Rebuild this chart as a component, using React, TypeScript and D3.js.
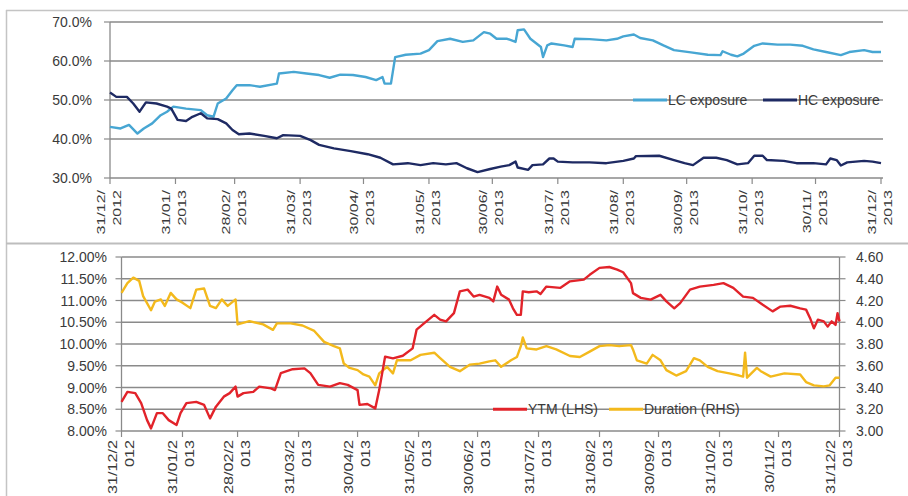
import React from "react";
import * as d3 from "d3";

// ---------- data ----------
const START = "2012-12-31";
const tickDates = [
  "2012-12-31", "2013-01-31", "2013-02-28", "2013-03-31", "2013-04-30", "2013-05-31",
  "2013-06-30", "2013-07-31", "2013-08-31", "2013-09-30", "2013-10-31", "2013-11-30", "2013-12-31",
];
const exposureTicks = [30, 40, 50, 60, 70];
const ytmTicks = [8, 8.5, 9, 9.5, 10, 10.5, 11, 11.5, 12];
const durationTicks = [3.0, 3.2, 3.4, 3.6, 3.8, 4.0, 4.2, 4.4, 4.6];

// days since 31/12/2012
const lcDays = [0, 5, 9, 13, 16, 20, 24, 27, 30, 36, 43, 46, 49, 51, 55, 58, 60, 66, 71, 79, 80, 87, 93, 99, 104, 109, 115, 121, 126, 129, 130, 133, 135, 140, 147, 151, 155, 161, 167, 172, 177, 180, 183, 188, 192, 193, 196, 199, 204, 205, 207, 209, 215, 219, 220, 227, 235, 240, 243, 248, 251, 257, 262, 267, 275, 283, 289, 290, 294, 297, 300, 305, 309, 316, 322, 328, 333, 339, 346, 350, 357, 361, 365];
const lcValues = [43.1, 42.7, 43.6, 41.4, 42.7, 44, 46.1, 47, 48.3, 47.8, 47.4, 46.1, 45.7, 49.1, 50.4, 52.5, 53.8, 53.8, 53.4, 54.2, 56.8, 57.2, 56.8, 56.4, 55.7, 56.5, 56.4, 55.9, 55.1, 55.9, 54.2, 54.2, 61, 61.6, 61.9, 62.8, 65.1, 65.7, 64.9, 65.3, 67.4, 67, 65.7, 65.7, 64.9, 67.9, 68.1, 65.7, 63.6, 61, 64, 64.5, 64, 63.6, 65.7, 65.6, 65.3, 65.7, 66.3, 66.8, 65.9, 65.3, 64, 62.8, 62.2, 61.6, 61.5, 62.5, 61.6, 61.2, 61.9, 63.9, 64.5, 64.2, 64.2, 63.9, 63, 62.3, 61.5, 62.3, 62.8, 62.3, 62.3];

const hcDays = [0, 3, 8, 11, 14, 17, 22, 27, 29, 32, 36, 39, 43, 46, 51, 55, 58, 61, 66, 73, 79, 82, 90, 95, 99, 106, 114, 122, 128, 134, 141, 147, 153, 159, 164, 169, 174, 180, 185, 189, 192, 193, 198, 200, 205, 208, 210, 212, 219, 227, 235, 243, 248, 249, 260, 267, 272, 276, 281, 287, 292, 297, 302, 305, 309, 311, 319, 325, 333, 339, 341, 344, 346, 349, 357, 361, 365];
const hcValues = [51.9, 50.8, 50.8, 49.1, 47, 49.4, 49.1, 48.3, 47.8, 44.9, 44.6, 45.7, 46.6, 45.3, 45.1, 44, 42.3, 41.2, 41.4, 40.8, 40.2, 41, 40.8, 39.7, 38.5, 37.6, 36.9, 36.1, 35.2, 33.5, 33.8, 33.3, 33.8, 33.5, 33.8, 32.5, 31.5, 32.3, 32.9, 33.3, 34.2, 32.7, 32.1, 33.3, 33.5, 35, 35, 34.2, 34, 34, 33.8, 34.4, 35, 35.6, 35.7, 34.6, 33.8, 33.3, 35.2, 35.2, 34.6, 33.5, 33.8, 35.7, 35.7, 34.6, 34.4, 33.8, 33.8, 33.5, 35, 34.6, 33.2, 34, 34.4, 34.2, 33.8];

const ytmDays = [0, 3, 7, 10, 13, 15, 18, 21, 24, 28, 30, 33, 38, 42, 45, 48, 52, 55, 58, 59, 62, 67, 70, 76, 78, 81, 87, 93, 96, 100, 106, 111, 115, 120, 121, 125, 129, 131, 134, 138, 143, 148, 150, 155, 159, 162, 165, 169, 172, 176, 179, 182, 187, 189, 191, 193, 197, 199, 201, 203, 204, 207, 211, 213, 216, 223, 228, 235, 238, 243, 248, 252, 255, 259, 260, 264, 269, 274, 277, 281, 284, 289, 294, 301, 306, 311, 316, 321, 326, 331, 335, 340, 345, 348, 350, 352, 354, 357, 359, 361, 363, 364, 365];
const ytmValues = [8.67, 8.9, 8.87, 8.64, 8.25, 8.06, 8.41, 8.41, 8.25, 8.14, 8.41, 8.64, 8.67, 8.6, 8.29, 8.56, 8.79, 8.87, 9.02, 8.79, 8.87, 8.9, 9.02, 8.98, 8.94, 9.33, 9.42, 9.44, 9.33, 9.06, 9.02, 9.1, 9.06, 8.94, 8.6, 8.62, 8.52, 8.94, 9.71, 9.67, 9.73, 9.9, 10.33, 10.52, 10.67, 10.56, 10.52, 10.71, 11.21, 11.25, 11.09, 11.13, 11.06, 10.98, 11.32, 11.13, 11.02, 10.82, 10.67, 10.67, 11.21, 11.19, 11.21, 11.15, 11.32, 11.29, 11.44, 11.48, 11.59, 11.75, 11.77, 11.71, 11.65, 11.4, 11.17, 11.06, 11.02, 11.13, 10.98, 10.82, 10.94, 11.25, 11.32, 11.36, 11.4, 11.29, 11.09, 11.06, 10.9, 10.75, 10.86, 10.88, 10.82, 10.79, 10.6, 10.36, 10.56, 10.52, 10.4, 10.52, 10.44, 10.71, 10.52];

const durDays = [0, 3, 6, 9, 11, 15, 17, 20, 22, 25, 28, 31, 35, 38, 42, 45, 48, 51, 54, 58, 59, 65, 72, 77, 79, 86, 92, 98, 103, 108, 111, 113, 116, 120, 123, 126, 129, 131, 135, 138, 140, 147, 152, 159, 162, 167, 172, 177, 182, 187, 190, 193, 198, 201, 203, 204, 206, 211, 216, 221, 228, 233, 238, 243, 248, 253, 259, 260, 262, 267, 270, 274, 277, 282, 287, 291, 294, 298, 303, 309, 314, 316, 317, 318, 323, 325, 330, 337, 345, 348, 352, 357, 360, 363, 365];
const durValues = [4.27, 4.36, 4.41, 4.38, 4.24, 4.11, 4.19, 4.21, 4.15, 4.27, 4.21, 4.18, 4.13, 4.3, 4.31, 4.15, 4.13, 4.21, 4.15, 4.21, 3.98, 4.01, 3.98, 3.93, 3.99, 3.99, 3.97, 3.92, 3.82, 3.78, 3.76, 3.62, 3.58, 3.56, 3.52, 3.5, 3.42, 3.53, 3.59, 3.53, 3.65, 3.65, 3.7, 3.72, 3.67, 3.59, 3.55, 3.61, 3.62, 3.64, 3.65, 3.59, 3.65, 3.68, 3.78, 3.86, 3.76, 3.75, 3.78, 3.75, 3.69, 3.68, 3.73, 3.78, 3.79, 3.78, 3.79, 3.75, 3.65, 3.62, 3.7, 3.65, 3.56, 3.51, 3.55, 3.67, 3.65, 3.59, 3.55, 3.53, 3.51, 3.5, 3.72, 3.49, 3.58, 3.55, 3.5, 3.53, 3.52, 3.45, 3.42, 3.41, 3.42, 3.49, 3.49];

const topLegend = ["LC exposure", "HC exposure"];
const bottomLegend = ["YTM (LHS)", "Duration (RHS)"];

// ---------- styles ----------
const FONT = "'Liberation Sans', Arial, sans-serif";
const TEXT = "#3a3a3a";
const GRID = "#8a8a8a";
const LC_COLOR = "#47a6d3";
const HC_COLOR = "#1e2a63";
const YTM_COLOR = "#e2232a";
const DUR_COLOR = "#f3b91c";

const parse = d3.utcParse("%Y-%m-%d");
const start = parse(START) as Date;
const toDate = (d: number) => d3.utcDay.offset(start, d);
const ticks = tickDates.map((s) => parse(s) as Date);
const domain: [Date, Date] = [ticks[0], ticks[ticks.length - 1]];

type Pt = { date: Date; v: number };
const series = (days: number[], vals: number[]): Pt[] => days.map((d, i) => ({ date: toDate(d), v: vals[i] }));

export default function App() {
  // ---- top chart scales ----
  const x1 = d3.scaleUtc().domain(domain).range([110, 881]);
  const y1 = d3.scaleLinear().domain([30, 70]).range([178, 22]);
  // ---- bottom chart scales ----
  const x2 = d3.scaleUtc().domain(domain).range([121.5, 839.5]);
  const yL = d3.scaleLinear().domain([8, 12]).range([431, 257]);
  const yR = d3.scaleLinear().domain([3, 4.6]).range([431, 257]);

  const line1 = d3.line<Pt>().x((p) => x1(p.date)).y((p) => y1(p.v));
  const lineL = d3.line<Pt>().x((p) => x2(p.date)).y((p) => yL(p.v));
  const lineR = d3.line<Pt>().x((p) => x2(p.date)).y((p) => yR(p.v));

  const lc = series(lcDays, lcValues);
  const hc = series(hcDays, hcValues);
  const ytm = series(ytmDays, ytmValues);
  const dur = series(durDays, durValues);

  const fmtTop1 = d3.utcFormat("%d/%m/");
  const fmtTop2 = d3.utcFormat("%Y");
  const fmtFull = d3.utcFormat("%d/%m/%Y");

  const [t1x0, t1x1] = x1.range();
  const [b1x0, b1x1] = x2.range();

  return (
    <svg
      width={908}
      height={496}
      style={{ position: "absolute", left: 0, top: 0, background: "#fff" }}
      fontFamily={FONT}
    >
      <rect x={0} y={0} width={908} height={496} fill="#fff" />
      {/* panel borders */}
      <line x1={6} x2={908} y1={10.5} y2={10.5} stroke="#c4c4c4" strokeWidth={1.5} />
      <line x1={6.5} x2={6.5} y1={10} y2={496} stroke="#c4c4c4" strokeWidth={1.5} />
      <line x1={6} x2={908} y1={243.5} y2={243.5} stroke="#bdbdbd" strokeWidth={2} />

      {/* ================= TOP CHART ================= */}
      {exposureTicks.map((t) => (
        <g key={"tg" + t}>
          {t !== 30 && (
            <line x1={t1x0} x2={t1x1 + 2} y1={y1(t)} y2={y1(t)} stroke={GRID} strokeWidth={1.4} />
          )}
          <line x1={t1x0 - 6} x2={t1x0} y1={y1(t)} y2={y1(t)} stroke={GRID} strokeWidth={1.2} />
          <text x={92} y={y1(t)} dy="0.36em" textAnchor="end" fontSize={14} fill={TEXT}>
            {t.toFixed(1) + "%"}
          </text>
        </g>
      ))}
      <line x1={t1x0} x2={t1x0} y1={y1(70)} y2={y1(30)} stroke={GRID} strokeWidth={1.3} />
      <line x1={t1x0} x2={t1x1 + 2} y1={y1(30)} y2={y1(30)} stroke={GRID} strokeWidth={1.3} />
      {ticks.map((d, i) => {
        const x = x1(d);
        return (
          <g key={"tx" + i}>
            <line x1={x} x2={x} y1={178} y2={184} stroke={GRID} strokeWidth={1.2} />
            <text transform={`translate(${x - 5},190) rotate(-90) scale(1,0.7)`} textAnchor="end" fontSize={16} fill={TEXT}>
              {fmtTop1(d)}
            </text>
            <text transform={`translate(${x + 11},190) rotate(-90) scale(1,0.7)`} textAnchor="end" fontSize={16} fill={TEXT}>
              {fmtTop2(d)}
            </text>
          </g>
        );
      })}
      <path d={line1(lc) || ""} fill="none" stroke={LC_COLOR} strokeWidth={2.4} strokeLinejoin="round" />
      <path d={line1(hc) || ""} fill="none" stroke={HC_COLOR} strokeWidth={2.4} strokeLinejoin="round" />

      {/* top legend */}
      {topLegend.map((name, i) => {
        const lx = i === 0 ? 633 : 763;
        const ly = y1(50);
        return (
          <g key={name}>
            <line x1={lx} x2={lx + 34} y1={ly} y2={ly} stroke={i === 0 ? LC_COLOR : HC_COLOR} strokeWidth={3} />
            <text x={lx + 35} y={ly} dy="0.36em" fontSize={14} fill={TEXT}>
              {name}
            </text>
          </g>
        );
      })}

      {/* ================= BOTTOM CHART ================= */}
      {ytmTicks.map((t, i) => (
        <g key={"bg" + t}>
          {i > 0 && <line x1={b1x0} x2={b1x1} y1={yL(t)} y2={yL(t)} stroke={GRID} strokeWidth={1.4} />}
          <line x1={b1x0 - 6} x2={b1x0} y1={yL(t)} y2={yL(t)} stroke={GRID} strokeWidth={1.2} />
          <text x={107} y={yL(t)} dy="0.36em" textAnchor="end" fontSize={14} fill={TEXT}>
            {t.toFixed(2) + "%"}
          </text>
        </g>
      ))}
      {durationTicks.map((t) => (
        <g key={"br" + t}>
          <line x1={b1x1} x2={b1x1 + 6} y1={yR(t)} y2={yR(t)} stroke={GRID} strokeWidth={1.2} />
          <text x={856} y={yR(t)} dy="0.36em" textAnchor="start" fontSize={14} fill={TEXT}>
            {t.toFixed(2)}
          </text>
        </g>
      ))}
      <line x1={b1x0} x2={b1x0} y1={257} y2={431} stroke={GRID} strokeWidth={1.3} />
      <line x1={b1x1} x2={b1x1} y1={257} y2={431} stroke={GRID} strokeWidth={1.3} />
      <line x1={b1x0} x2={b1x1} y1={431} y2={431} stroke={GRID} strokeWidth={1.3} />
      {ticks.map((d, i) => {
        const x = x2(d);
        const s = fmtFull(d);
        return (
          <g key={"bx" + i}>
            <line x1={x} x2={x} y1={431} y2={437} stroke={GRID} strokeWidth={1.2} />
            <text transform={`translate(${x - 5},440) rotate(-90) scale(1,0.75)`} textAnchor="end" fontSize={16.2} fill={TEXT}>
              {s.slice(0, 7)}
            </text>
            <text transform={`translate(${x + 12},440) rotate(-90) scale(1,0.75)`} textAnchor="end" fontSize={16.2} fill={TEXT}>
              {s.slice(7)}
            </text>
          </g>
        );
      })}
      <path d={lineR(dur) || ""} fill="none" stroke={DUR_COLOR} strokeWidth={2.4} strokeLinejoin="round" />
      <path d={lineL(ytm) || ""} fill="none" stroke={YTM_COLOR} strokeWidth={2.4} strokeLinejoin="round" />

      {/* bottom legend */}
      {bottomLegend.map((name, i) => {
        const lx = i === 0 ? 493 : 609;
        const ly = yL(8.5);
        return (
          <g key={name}>
            <line x1={lx} x2={lx + 34} y1={ly} y2={ly} stroke={i === 0 ? YTM_COLOR : DUR_COLOR} strokeWidth={3} />
            <text x={lx + 35} y={ly} dy="0.36em" fontSize={14} fill={TEXT}>
              {name}
            </text>
          </g>
        );
      })}
    </svg>
  );
}
